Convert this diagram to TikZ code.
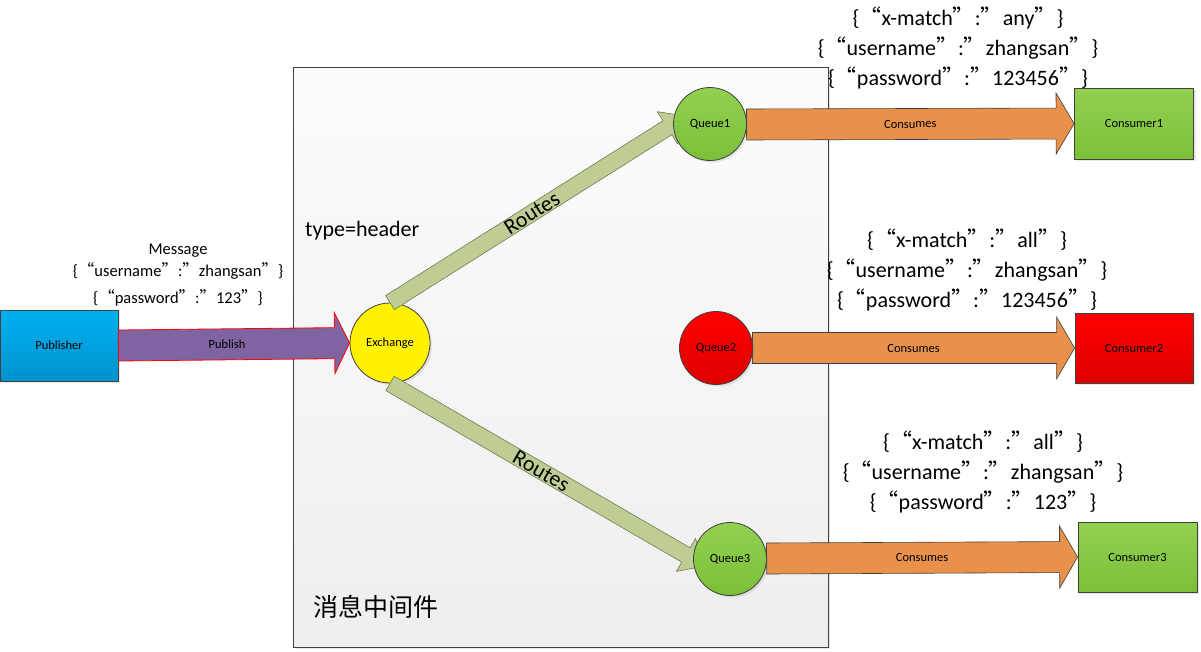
\documentclass[tikz,border=0pt]{standalone}
\usepackage{fontspec}
\setmainfont{Carlito}
\newfontfamily\cjk{Noto Sans CJK SC}
\usetikzlibrary{calc,shadows}
\newcommand\myoq{{\cjk “}}
\newcommand\mycq{{\cjk ”}}
% #1 style, #2 from, #3 to, #4 body half width, #5 head half width, #6 head length, #7 label, #8 label style
\newcommand\blockarrow[8]{%
  \coordinate (ba-h) at ($(#3)!#6!(#2)$);
  \path[#1] ($(#2)!#4!90:(#3)$) -- ($(ba-h)!#4!90:(#3)$) -- ($(ba-h)!#5!90:(#3)$) -- (#3)
    -- ($(ba-h)!#5!-90:(#3)$) -- ($(ba-h)!#4!-90:(#3)$) -- ($(#2)!#4!-90:(#3)$) -- cycle;
  \path (#2) -- (#3) node[pos=0.5, sloped, inner sep=0pt, #8]{#7};
}
\definecolor{boxtop}{HTML}{FCFCFC}
\definecolor{boxbot}{HTML}{EEEEEE}
\definecolor{edge}{HTML}{404040}
\definecolor{bluetop}{HTML}{00B0F0}
\definecolor{bluebot}{HTML}{0092CE}
\definecolor{greentop}{HTML}{92D050}
\definecolor{greenbot}{HTML}{7BC038}
\definecolor{redtop}{HTML}{FF0000}
\definecolor{redbot}{HTML}{DE0000}
\definecolor{orangefill}{HTML}{E8914A}
\definecolor{routefill}{HTML}{BDCD93}
\definecolor{routeedge}{HTML}{6E7D55}
\definecolor{purplefill}{HTML}{8064A2}
\tikzset{
  shad/.style={drop shadow={shadow xshift=2pt,shadow yshift=-2pt,opacity=0.18}},
  lbl/.style={font=\fontsize{12.5}{14}\selectfont, text=black},
  rectnode/.style={rectangle, draw=edge, line width=0.8pt, inner sep=0pt, lbl, shad},
  circnode/.style={circle, draw=edge, line width=0.8pt, inner sep=0pt, lbl, shad},
  greenfill/.style={top color=greentop, bottom color=greenbot},
  redfill/.style={top color=redtop, bottom color=redbot},
  consumearrow/.style={fill=orangefill, draw=edge, line width=0.6pt},
  routearrow/.style={fill=routefill, draw=routeedge, line width=0.6pt},
  publisharrow/.style={fill=purplefill, draw=red, line width=0.8pt},
  bigtext/.style={font=\fontsize{22}{30}\selectfont, align=center, inner sep=0pt},
  midtext/.style={font=\fontsize{16.5}{27}\selectfont, align=center, inner sep=0pt},
}
\begin{document}
\begin{tikzpicture}[x=1pt,y=-1pt]
\useasboundingbox (0,0) rectangle (1201,651);
\fill[white] (0,0) rectangle (1201,651);

% middleware box
\node[rectangle, draw=edge, line width=1pt, top color=boxtop, bottom color=boxbot,
      minimum width=535pt, minimum height=580pt, inner sep=0pt, shad] (mw) at (560.5,357) {};
\node[anchor=west, font=\cjk\fontsize{25}{28}\selectfont, inner sep=0pt] (mwlabel) at (313,607) {消息中间件};
\node[anchor=west, font=\fontsize{22}{26}\selectfont, inner sep=0pt] (typelabel) at (305,231) {type=header};

% nodes
\node[rectnode, top color=bluetop, bottom color=bluebot, minimum width=118pt, minimum height=71pt] (pub) at (59,345.5) {Publisher};
\node[circnode, fill=yellow, minimum size=80pt] (ex) at (390,343) {};

% publish arrow
\blockarrow{publisharrow}{pub.east}{ex.west}{15.5pt}{30.5pt}{15pt}{Publish}{lbl, pos=0.47}
\node[lbl] (exlabel) at (ex) {Exchange};

% consumers
\node[rectnode, greenfill, minimum width=119pt, minimum height=71pt] (c1) at (1134,123.5) {Consumer1};
\node[rectnode, redfill, minimum width=118pt, minimum height=70pt] (c2) at (1134,348) {Consumer2};
\node[rectnode, greenfill, minimum width=119pt, minimum height=70pt] (c3) at (1137.5,557) {Consumer3};

% queue centres and edge points for the arrows
\coordinate (q1c) at (710,124);
\coordinate (q2c) at (716,348);
\coordinate (q3c) at (730,559);
\coordinate (q1e) at (746.5,124.5);
\coordinate (q2e) at (752.5,348);
\coordinate (q3e) at (766.5,558.5);

\blockarrow{consumearrow}{q1e}{c1.west}{15.5pt}{30.5pt}{18pt}{Consumes}{lbl}
\blockarrow{consumearrow}{q2e}{c2.west}{15.5pt}{31pt}{18pt}{Consumes}{lbl}
\blockarrow{consumearrow}{q3e}{c3.west}{15.5pt}{31pt}{18pt}{Consumes}{lbl}

% routes
\coordinate (r1) at (686,116);
\coordinate (r2) at (705,566);
\blockarrow{routearrow}{ex.north}{r1}{8.3pt}{19pt}{22pt}{Routes}{font=\fontsize{22}{26}\selectfont, pos=0.48}
\blockarrow{routearrow}{ex.south}{r2}{8.3pt}{19pt}{22pt}{Routes}{font=\fontsize{22}{26}\selectfont, pos=0.48}

\node[circnode, greenfill, minimum size=73pt] (q1) at (q1c) {Queue1};
\node[circnode, redfill, minimum size=73pt] (q2) at (q2c) {Queue2};
\node[circnode, greenfill, minimum size=73pt] (q3) at (q3c) {Queue3};

% texts
\node[midtext] (msg) at (178,275) {Message\\[-5pt]\{\myoq username\mycq :\mycq zhangsan\mycq\}\\\{\myoq password\mycq :\mycq 123\mycq\}};
\node[bigtext] (t1) at (958,48) {\{\myoq x-match\mycq :\mycq any\mycq\}\\\{\myoq username\mycq :\mycq zhangsan\mycq\}\\\{\myoq password\mycq :\mycq 123456\mycq\}};
\node[bigtext] (t2) at (967,270) {\{\myoq x-match\mycq :\mycq all\mycq\}\\\{\myoq username\mycq :\mycq zhangsan\mycq\}\\\{\myoq password\mycq :\mycq 123456\mycq\}};
\node[bigtext] (t3) at (983,472) {\{\myoq x-match\mycq :\mycq all\mycq\}\\\{\myoq username\mycq :\mycq zhangsan\mycq\}\\\{\myoq password\mycq :\mycq 123\mycq\}};
\end{tikzpicture}
\end{document}
